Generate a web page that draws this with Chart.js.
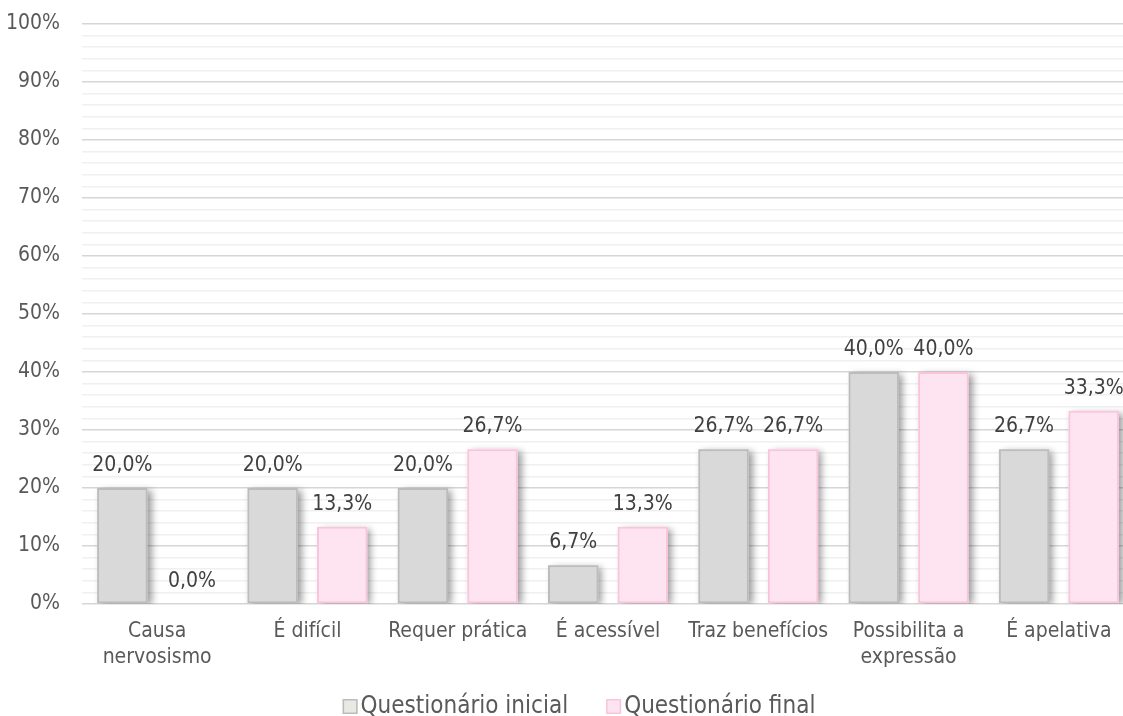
<!DOCTYPE html>
<html lang="pt">
<head>
<meta charset="utf-8">
<title>Questionário inicial vs final</title>
<script src="https://cdn.jsdelivr.net/npm/chart.js@4/dist/chart.umd.min.js"></script>
<style>
  html, body { margin: 0; padding: 0; background: #ffffff; overflow: hidden; }
  #wrap { width: 1134px; height: 716px; }
</style>
</head>
<body>
<div id="wrap"><canvas id="chart" width="1134" height="716"></canvas></div>
<script>
// Categories and answer shares (%) for each questionnaire
const categories = [
  ['Causa', 'nervosismo'],
  'É difícil',
  'Requer prática',
  'É acessível',
  'Traz benefícios',
  ['Possibilita a', 'expressão'],
  'É apelativa'
];
const seriesNames = ['Questionário inicial', 'Questionário final'];
const initialValues = [20.0, 20.0, 20.0, 6.7, 26.7, 40.0, 26.7];
const finalValues = [0.0, 13.3, 26.7, 13.3, 26.7, 40.0, 33.3];
const yTicks = [0, 10, 20, 30, 40, 50, 60, 70, 80, 90, 100];

const FONT = '"DejaVu Sans Condensed", "DejaVu Sans", sans-serif';
const fmtPct = v => v.toFixed(1).replace('.', ',') + '%';

// Soft drop shadow behind every bar
const barShadow = {
  id: 'barShadow',
  beforeDatasetsDraw(chart) {
    const { ctx, chartArea } = chart;
    ctx.save();
    ctx.beginPath();
    ctx.rect(chartArea.left, chartArea.top, chartArea.right - chartArea.left, chartArea.bottom - chartArea.top);
    ctx.clip();
    chart.data.datasets.forEach((ds, i) => {
      chart.getDatasetMeta(i).data.forEach(bar => {
        const h = bar.base - bar.y;
        if (h <= 0.5) return;
        ctx.save();
        ctx.shadowColor = 'rgba(0,0,0,0.38)';
        ctx.shadowBlur = 7;
        ctx.shadowOffsetX = 4;
        ctx.shadowOffsetY = 2;
        ctx.fillStyle = ds.backgroundColor;
        ctx.fillRect(bar.x - bar.width / 2, bar.y, bar.width, h);
        ctx.restore();
      });
    });
    ctx.restore();
  }
};

// Value labels above the bars
const valueLabels = {
  id: 'valueLabels',
  afterDatasetsDraw(chart) {
    const { ctx } = chart;
    ctx.save();
    ctx.font = '21px ' + FONT;
    ctx.fillStyle = '#404040';
    ctx.textAlign = 'center';
    ctx.textBaseline = 'alphabetic';
    chart.data.datasets.forEach((ds, i) => {
      chart.getDatasetMeta(i).data.forEach((bar, j) => {
        ctx.fillText(fmtPct(ds.data[j]), bar.x, bar.y - 17);
      });
    });
    ctx.restore();
  }
};

// Compact legend under the chart
const bottomLegend = {
  id: 'bottomLegend',
  afterDraw(chart) {
    const { ctx } = chart;
    const box = 15, gap = 3, between = 38, cy = 706.5, cx = 579;
    ctx.save();
    ctx.font = '24px ' + FONT;
    const items = chart.data.datasets.map(ds => ({
      label: ds.label, fill: ds.legendFill, stroke: ds.borderColor,
      w: box + gap + ctx.measureText(ds.label).width
    }));
    const total = items.reduce((s, it) => s + it.w, 0) + between * (items.length - 1);
    let x = cx - total / 2;
    items.forEach(it => {
      ctx.fillStyle = it.fill;
      ctx.fillRect(x, cy - box / 2, box, box);
      ctx.strokeStyle = it.stroke;
      ctx.lineWidth = 1.5;
      ctx.strokeRect(x + 0.75, cy - box / 2 + 0.75, box - 1.5, box - 1.5);
      ctx.fillStyle = '#595959';
      ctx.textAlign = 'left';
      ctx.textBaseline = 'middle';
      ctx.fillText(it.label, x + box + gap, cy);
      x += it.w + between;
    });
    ctx.restore();
  }
};

new Chart(document.getElementById('chart'), {
  type: 'bar',
  data: {
    labels: categories,
    datasets: [
      {
        label: seriesNames[0],
        data: initialValues,
        backgroundColor: '#d9d9d9',
        borderColor: '#bcbcbc',
        legendFill: '#e9e9e4',
        borderWidth: 2,
        borderSkipped: false
      },
      {
        label: seriesNames[1],
        data: finalValues,
        backgroundColor: '#fde4f0',
        borderColor: '#fac5dc',
        legendFill: '#fde4f0',
        borderWidth: 2,
        borderSkipped: false
      }
    ]
  },
  options: {
    responsive: false,
    animation: false,
    devicePixelRatio: 1,
    categoryPercentage: 0.926,
    barPercentage: 0.724,
    layout: { padding: { top: 24, right: 0, bottom: 0, left: 0 } },
    plugins: {
      legend: { display: false },
      tooltip: { enabled: false }
    },
    scales: {
      x: {
        grid: { display: false },
        border: { display: false },
        ticks: {
          color: '#595959',
          font: { family: FONT, size: 21, lineHeight: 1.25 },
          padding: 6,
          maxRotation: 0,
          autoSkip: false
        },
        afterFit(scale) { scale.height = 112; }
      },
      y: {
        min: 0,
        max: 100,
        border: { display: false },
        grid: {
          drawTicks: false,
          color: c => (c.tick && c.tick.value % 10 === 0) ? '#d6d6d6' : '#f0f0f0',
          lineWidth: 1.5
        },
        ticks: {
          stepSize: 2,
          autoSkip: false,
          padding: 22,
          color: '#595959',
          font: { family: FONT, size: 21 },
          callback: v => yTicks.includes(v) ? v + '%' : ''
        },
        afterFit(scale) {
          scale.width = 82;
          scale.paddingTop = 0;
          scale.paddingBottom = 0;
        }
      }
    }
  },
  plugins: [barShadow, valueLabels, bottomLegend]
});
</script>
</body>
</html>
